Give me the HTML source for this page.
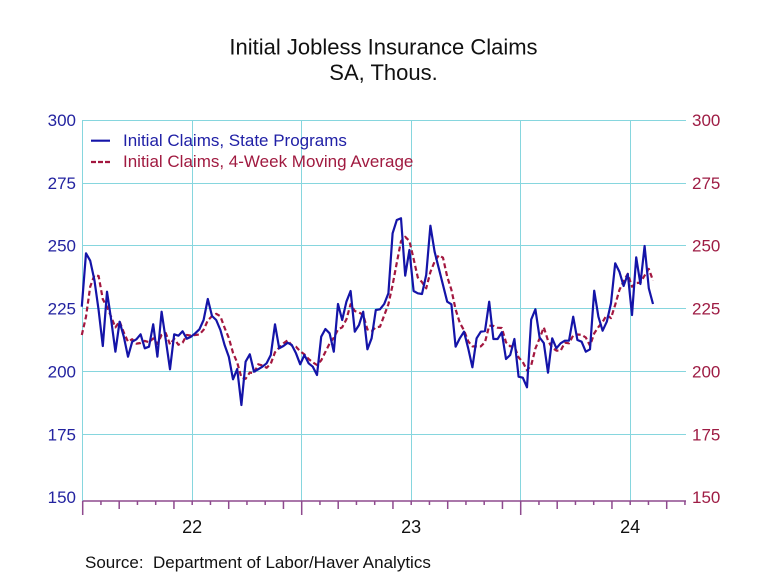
<!DOCTYPE html>
<html>
<head>
<meta charset="utf-8">
<style>
html,body{margin:0;padding:0;background:#fff;}
svg{display:block;}
text{font-family:"Liberation Sans",Arial,sans-serif;}
</style>
</head>
<body>
<svg width="768" height="576" viewBox="0 0 768 576" xmlns="http://www.w3.org/2000/svg">
<rect width="768" height="576" fill="#fff"/>
<!-- title -->
<text x="383.5" y="54.5" font-size="22" text-anchor="middle" fill="#111">Initial Jobless Insurance Claims</text>
<text x="383.5" y="80" font-size="22" text-anchor="middle" fill="#111">SA, Thous.</text>

<!-- gridlines -->
<g stroke="#86d6de" stroke-width="1" fill="none" shape-rendering="crispEdges">
<path d="M82.5 120.5H686 M82.5 183.5H686 M82.5 245.5H686 M82.5 308.5H686 M82.5 371.5H686 M82.5 434.5H686"/>
<path d="M82.5 120V501 M192.5 120V501 M301.5 120V501 M411.5 120V501 M520.5 120V501 M630.5 120V501"/>
</g>

<!-- x axis -->
<g stroke="#8e4a8e" stroke-width="1.5" fill="none">
<path d="M82.7 501H686"/>
<path d="M82.7 501V515 M301.7 501V515 M520.7 501V515"/>
<path d="M119.2 501V509 M173.95 501V509 M228.7 501V509 M283.45 501V509 M338.2 501V509 M392.95 501V509 M447.7 501V509 M502.45 501V509 M557.2 501V509 M611.95 501V509 M666.7 501V509"/>
<path d="M100.95 501V505 M137.45 501V505 M155.7 501V505 M192.2 501V505 M210.45 501V505 M246.95 501V505 M265.2 501V505 M319.95 501V505 M356.45 501V505 M374.7 501V505 M411.2 501V505 M429.45 501V505 M465.95 501V505 M484.2 501V505 M538.95 501V505 M575.45 501V505 M593.7 501V505 M630.2 501V505 M648.45 501V505 M684.95 501V505"/>
</g>

<!-- left axis labels -->
<g font-size="17" fill="#2323a0" text-anchor="end">
<text x="76" y="126">300</text>
<text x="76" y="188.85">275</text>
<text x="76" y="251.7">250</text>
<text x="76" y="314.55">225</text>
<text x="76" y="377.4">200</text>
<text x="76" y="440.25">175</text>
<text x="76" y="503">150</text>
</g>
<!-- right axis labels -->
<g font-size="17" fill="#9e1c44" text-anchor="start">
<text x="692" y="126">300</text>
<text x="692" y="188.85">275</text>
<text x="692" y="251.7">250</text>
<text x="692" y="314.55">225</text>
<text x="692" y="377.4">200</text>
<text x="692" y="440.25">175</text>
<text x="692" y="503">150</text>
</g>

<!-- year labels -->
<g font-size="18" fill="#111" text-anchor="middle">
<text x="192.2" y="533">22</text>
<text x="411.2" y="533">23</text>
<text x="630.2" y="533">24</text>
</g>

<!-- source -->
<text x="85" y="568" font-size="17" fill="#111" xml:space="preserve">Source:  Department of Labor/Haver Analytics</text>

<!-- legend -->
<line x1="91" y1="140.7" x2="110" y2="140.7" stroke="#1414a8" stroke-width="2.2"/>
<text x="123" y="146" font-size="17" fill="#2020a6">Initial Claims, State Programs</text>
<line x1="91" y1="162" x2="110" y2="162" stroke="#a3173f" stroke-width="2.2" stroke-dasharray="5,2"/>
<text x="123" y="167" font-size="17" fill="#a01a40">Initial Claims, 4-Week Moving Average</text>

<!-- moving average (dashed) -->
<polyline fill="none" stroke="#a3173f" stroke-width="2.2" stroke-dasharray="5,3" stroke-linejoin="round" points="81.8,335 86,316.7 90.2,286.7 94.4,275.2 98.6,276 102.8,299.2 107,306.9 111.2,316.9 115.4,327.4 119.6,321.3 123.8,332.5 128,341.7 132.2,339.2 136.4,343.6 140.6,343 144.8,340.9 149,342.2 153.2,338.4 157.4,344 161.6,334.9 165.8,333.2 170,344.4 174.2,338.8 178.4,344.8 182.6,342.7 186.8,335 191,335.6 195.2,335 199.4,334.5 203.6,329.8 207.8,320.4 212,316.1 216.2,313.8 220.4,316.3 224.6,327.8 228.8,337.9 233,352.8 237.2,362.5 241.4,377.5 245.6,378.8 249.8,372.5 254,373.2 258.2,364.3 262.4,365.5 266.6,367.8 270.8,363.6 275,352.3 279.2,347.7 283.4,343.4 287.6,340.3 291.8,345.5 296,346.8 300.2,351.3 304.4,354.4 308.6,359 312.8,362.3 317,365 321.2,360.4 325.4,351.9 329.6,343.5 333.8,337.7 338,329.5 342.2,327.3 346.4,319.4 350.6,304.2 354.8,311.1 359,312.4 363.2,314.9 367.4,329.4 371.6,331.1 375.8,327.3 380,326.7 384.2,315.4 388.4,304.2 392.6,285 396.8,262.7 401,241.2 405.2,236.8 409.4,241 413.6,258.8 417.8,277.5 422,282.1 426.2,288.3 430.4,272 434.6,261.6 438.8,255.2 443,257.7 447.2,276.7 451.4,289.8 455.6,309.4 459.8,322.8 464,330.3 468.2,341.3 472.4,346.4 476.6,346.4 480.8,346.4 485,342.1 489.2,325.7 493.4,325.9 497.6,327.7 501.8,328 506,342.3 510.2,346.3 514.4,346.3 518.6,357.4 522.8,362.1 527,370.2 531.2,365.3 535.4,348.5 539.6,338.4 543.8,327.3 548,340.6 552.2,347.9 556.4,350.6 560.6,350.7 564.8,342.7 569,343.3 573.2,335.4 577.4,334.5 581.6,334.8 585.8,337.5 590,345.7 594.2,333.4 598.4,327.1 602.6,321.9 606.8,315 611,318.1 615.2,304.8 619.4,290 623.6,281.1 627.8,273.8 632,286.7 636.2,283.1 640.4,282.6 644.6,275.6 648.8,268.9 653,280.6"/>

<!-- initial claims (solid) -->
<polyline fill="none" stroke="#1414a8" stroke-width="2.2" stroke-linejoin="round" points="81.8,306.7 86,253.3 90.2,260.7 94.4,280 98.6,310 102.8,346 107,291.7 111.2,320 115.4,351.7 119.6,321.7 123.8,336.7 128,356.7 132.2,341.7 136.4,339.3 140.6,334.3 144.8,348.3 149,346.7 153.2,324.3 157.4,356.7 161.6,311.7 165.8,340 170,369.3 174.2,334.3 178.4,335.7 182.6,331.3 186.8,338.7 191,336.7 195.2,333.3 199.4,329.3 203.6,320 207.8,299 212,316 216.2,320 220.4,330 224.6,345 228.8,356.7 233,379.3 237.2,369 241.4,405 245.6,361.7 249.8,354.3 254,371.7 258.2,369.3 262.4,366.7 266.6,363.3 270.8,355 275,324.3 279.2,348.3 283.4,346 287.6,342.7 291.8,345 296,353.3 300.2,364.3 304.4,355 308.6,363.3 312.8,366.7 317,375 321.2,336.7 325.4,329 329.6,333.3 333.8,351.7 338,304 342.2,320 346.4,301.7 350.6,291 354.8,331.7 359,325 363.2,311.7 367.4,349.3 371.6,338.3 375.8,310 380,309.3 384.2,304 388.4,293.3 392.6,233.3 396.8,220 401,218.3 405.2,275.7 409.4,250 413.6,291 417.8,293.3 422,294 426.2,275 430.4,225.7 434.6,251.7 438.8,268.3 443,285 447.2,301.7 451.4,304.3 455.6,346.7 459.8,338.3 464,331.7 468.2,348.3 472.4,367.3 476.6,338.3 480.8,331.7 485,331 489.2,301.7 493.4,339 497.6,339 501.8,332.3 506,359 510.2,355 514.4,339 518.6,376.7 522.8,377.7 527,387.3 531.2,319.5 535.4,309.3 539.6,337.5 543.8,343 548,372.7 552.2,338.3 556.4,348.3 560.6,343.3 564.8,340.7 569,340.7 573.2,316.7 577.4,340 581.6,341.7 585.8,351.7 590,349.3 594.2,290.7 598.4,316.7 602.6,330.7 606.8,321.7 611,303.3 615.2,263.3 619.4,271.7 623.6,286 627.8,274 632,315 636.2,257.3 640.4,284 644.6,246 648.8,288.3 653,304"/>
</svg>
</body>
</html>
